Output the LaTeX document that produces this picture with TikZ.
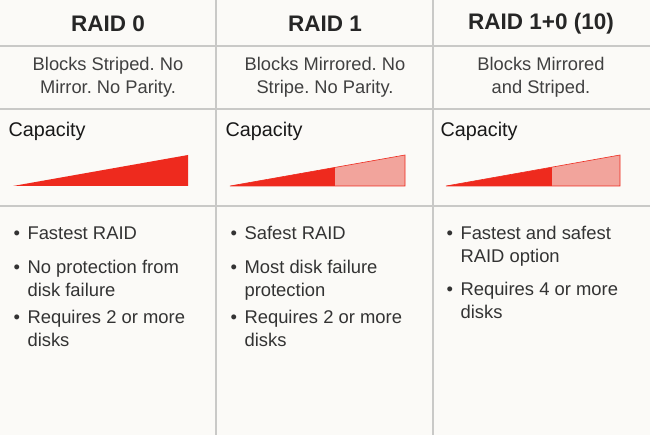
\documentclass[tikz,border=0pt]{standalone}
\usepackage{fontspec}
\setmainfont{Liberation Sans}
\frenchspacing
\definecolor{paper}{HTML}{FBFAF7}
\definecolor{rule}{HTML}{C9C9C7}
\definecolor{raidred}{HTML}{EE2A1E}
\definecolor{raidpink}{HTML}{F2A49C}
\newcommand{\bul}{\makebox[14pt][l]{\textbullet}}
\newcommand{\cont}{\hspace*{14pt}}
\begin{document}
\begin{tikzpicture}[x=1pt,y=-1pt,
        head/.style = {font=\fontsize{22.5}{26}\selectfont\bfseries, text=black!85},
        desc/.style = {font=\fontsize{18.3}{23}\selectfont, text=black!75, align=center},
        caplabel/.style = {font=\fontsize{19.8}{22}\selectfont, text=black!90, anchor=west},
        bullets/.style = {font=\fontsize{18.4}{23}\selectfont, text=black!80, anchor=north west, align=left}]
    % frame
    \fill[paper] (0,0) rectangle (650,435);
    \useasboundingbox (0,0) rectangle (650,435);
    \foreach \y in {46,109,206}
        \draw[rule, line width=1.2pt] (0,\y) -- (650,\y);
    \foreach \x in {216,433}
        \draw[rule, line width=1.2pt] (\x,0) -- (\x,435);
    % headers
    \node[head] (h0) at (108,24) {RAID 0};
    \node[head] (h1) at (325,24) {RAID 1};
    \node[head] (h2) at (541,24) {RAID 1+0 (10)};
    % descriptions
    \node[desc] (d0) at (108,77) {Blocks Striped. No\\Mirror. No Parity.};
    \node[desc] (d1) at (325,77) {Blocks Mirrored. No\\Stripe. No Parity.};
    \node[desc] (d2) at (541,77) {Blocks Mirrored\\and Striped.};
    % capacity
    \node[caplabel] (c0) at (5,131) {Capacity};
    \node[caplabel] (c1) at (222,131) {Capacity};
    \node[caplabel] (c2) at (437,131) {Capacity};
    \fill[raidred] (13,186) -- (188,155) -- (188,186) -- cycle;
    \fill[raidred] (230,186) -- (335,167.4) -- (335,186) -- cycle;
    \fill[raidpink] (335,167.4) -- (405,155) -- (405,186) -- (335,186) -- cycle;
    \fill[raidred] (446,186) -- (552,167.2) -- (552,186) -- cycle;
    \fill[raidpink] (552,167.2) -- (620,155) -- (620,186) -- (552,186) -- cycle;
    \draw[raidred, line width=0.6pt] (230,186) -- (405,155) -- (405,186) -- cycle;
    \draw[raidred, line width=0.6pt] (446,186) -- (620,155) -- (620,186) -- cycle;
    % bullets
    \node[bullets] (b0) at (10,223) {%
        \bul Fastest RAID\\[11pt]
        \bul No protection from\\\cont disk failure\\[4pt]
        \bul Requires 2 or more\\\cont disks};
    \node[bullets] (b1) at (227,223) {%
        \bul Safest RAID\\[11pt]
        \bul Most disk failure\\\cont protection\\[4pt]
        \bul Requires 2 or more\\\cont disks};
    \node[bullets] (b2) at (443,223) {%
        \bul Fastest and safest\\\cont RAID option\\[10pt]
        \bul Requires 4 or more\\\cont disks};
\end{tikzpicture}
\end{document}
